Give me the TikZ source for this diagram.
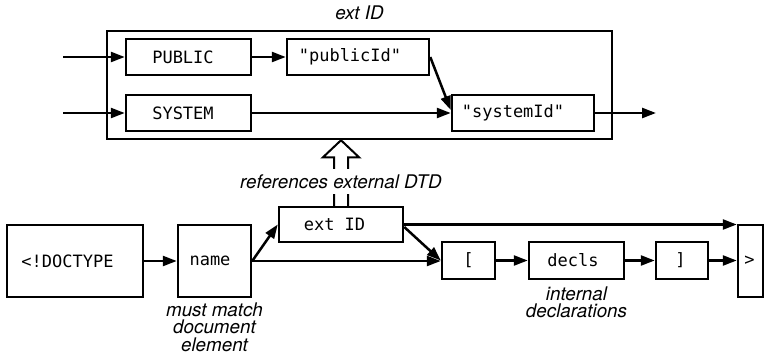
\documentclass[tikz,border=0pt]{standalone}
\usepackage{fontspec}
\setsansfont{TeX Gyre Heros}
\setmonofont{DejaVu Sans Mono}
\usetikzlibrary{arrows.meta}
\usetikzlibrary{positioning}
\usetikzlibrary{calc}
\tikzstyle{box}=[rectangle,draw,line width=2.5pt,inner sep=0pt,font=\fontsize{17}{18}\selectfont\ttfamily]
\tikzstyle{note}=[align=center,inner sep=0pt,font=\fontsize{18.8}{17.5}\selectfont\sffamily\itshape]
\tikzstyle{flow}=[line width=2.5pt,-{Triangle[length=14pt,width=10pt]}]

\begin{document}
\begin{tikzpicture}[x=1pt,y=-1pt]
  \useasboundingbox (0,0) rectangle (766,356);

  % outer box of the ext ID sub-diagram
  \node[draw,line width=2.5pt,minimum width=505pt,minimum height=108pt,inner sep=0pt] (outer) at (359.5,85) {};
  \node[note,above=10pt of outer] (title) {ext ID};

  \foreach \x/\y/\w/\h/\s/\name/\label in {188.5/57/125/36/11/public/PUBLIC,
          358/57/142/36/16/pubid/"publicId",
          188.5/113/125/36/11/system/SYSTEM,
          523/113/142/36/20/sysid/"systemId",
          75/261/136/72/15/doctype/<!DOCTYPE,
          214.5/261/73/72/9/name/name,
          341/224.5/124/35/13/extid/ext ID,
          468.5/260.5/53/37/0/lbrack/{[},
          576.5/260.5/95/37/7/decls/decls,
          682/260.5/52/37/3/rbrack/{]},
          750.5/261/25/72/2/gt/>}
          \node[box,minimum width=\w pt,minimum height=\h pt] (\name) at (\x,\y) {\label\hspace*{\s pt}};

  % free ends
  \coordinate (inpub) at (63,57);
  \coordinate (insys) at (63,113);
  \coordinate (out) at (656,113);

  \draw[flow] (inpub) -- (public);
  \draw[flow] (insys) -- (system);
  \draw[flow] (public) -- (pubid);
  \draw[flow] (pubid.east) -- ([yshift=3pt]sysid.west);
  \draw[flow] (system) -- (sysid);
  \draw[flow] (sysid) -- (out);

  \draw[flow] (doctype) -- (name);
  \draw[flow] (name.east) -- (extid.west);
  \draw[flow] (name.east) -- (name.east -| lbrack.west);
  \draw[flow] (extid.east) -- (extid.east -| gt.west);
  \draw[flow] ([yshift=-2.5pt]extid.east) -- (lbrack.west);
  \draw[flow] (lbrack) -- (decls);
  \draw[flow] (decls) -- (rbrack);
  \draw[flow] (rbrack) -- (rbrack -| gt.west);

  % hollow arrow up to the sub-diagram
  \coordinate (tip) at (extid.north |- outer.south);
  \draw[line width=2pt,fill=white] ($(extid.north)+(-7,0)$) -- ($(tip)+(-7,17)$)
    -- ($(tip)+(-18,17)$) -- (tip) -- ($(tip)+(18,17)$) -- ($(tip)+(7,17)$) -- ($(extid.north)+(7,0)$);
  \node[note,fill=white,inner xsep=2pt,inner ysep=5pt] (refs) at (341,181.5) {references external DTD};

  \node[note,below=4pt of name] (match) {must match\\document\\element};
  \node[note,below=6pt of decls] (internal) {internal\\declarations};
\end{tikzpicture}
\end{document}
